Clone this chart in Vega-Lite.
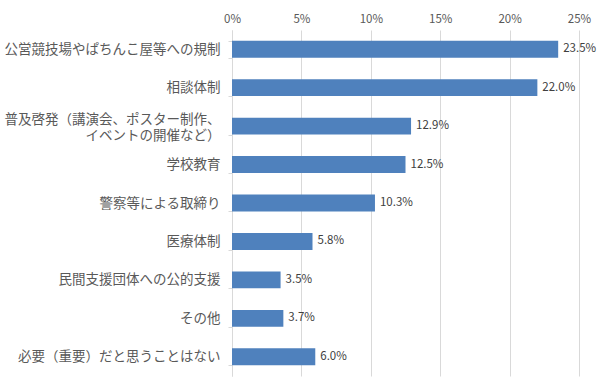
{
  "$schema": "https://vega.github.io/schema/vega-lite/v6.json",
  "autosize": "none",
  "width": 347,
  "height": 346,
  "padding": {"left": 232, "top": 30, "right": 18, "bottom": 7},
  "background": "white",
  "config": {"view": {"stroke": null}, "font": "Noto Sans CJK JP"},
  "data": {"values": [
    {"category": "公営競技場やぱちんこ屋等への規制", "value": 0.235},
    {"category": "相談体制", "value": 0.220},
    {"category": "普及啓発（講演会、ポスター制作、\nイベントの開催など）", "value": 0.129},
    {"category": "学校教育", "value": 0.125},
    {"category": "警察等による取締り", "value": 0.103},
    {"category": "医療体制", "value": 0.058},
    {"category": "民間支援団体への公的支援", "value": 0.035},
    {"category": "その他", "value": 0.037},
    {"category": "必要（重要）だと思うことはない", "value": 0.060}
  ]},
  "layer": [
    {"mark": {"type": "bar", "color": "#4f81bd"},
      "encoding": {
        "y": {"field": "category", "type": "nominal", "sort": null,
          "scale": {"paddingInner": 0.56, "paddingOuter": 0.28},
          "axis": {"title": null, "labelFont": "Noto Sans CJK JP", "labelFontSize": 13.5, "labelColor": "#595959",
            "labelExpr": "split(datum.label, '\\n')", "labelLineHeight": 16,
            "labelBaseline": {"condition": {"test": "length(datum.label) > 20", "value": "bottom"}, "value": "middle"},
            "domainColor": "#d9d9d9", "tickColor": "#d9d9d9", "tickSize": 4, "tickBand": "extent", "labelPadding": 8, "labelLimit": 240}},
        "x": {"field": "value", "type": "quantitative",
          "scale": {"domain": [0, 0.25], "nice": false},
          "axis": {"orient": "top", "title": null, "values": [0, 0.05, 0.1, 0.15, 0.2, 0.25], "format": ".0%",
            "labelFont": "Noto Sans CJK JP", "labelFontSize": 11.5, "labelColor": "#595959", "labelPadding": 6,
            "domain": false, "ticks": false, "grid": true, "gridColor": "#d9d9d9", "labelFlush": false}}
      }},
    {"mark": {"type": "text", "align": "left", "dx": 5, "fontSize": 11.5, "color": "#404040", "font": "Noto Sans CJK JP"},
      "encoding": {
        "y": {"field": "category", "type": "nominal", "sort": null},
        "x": {"field": "value", "type": "quantitative"},
        "text": {"field": "value", "type": "quantitative", "format": ".1%"}}}
  ]
}
